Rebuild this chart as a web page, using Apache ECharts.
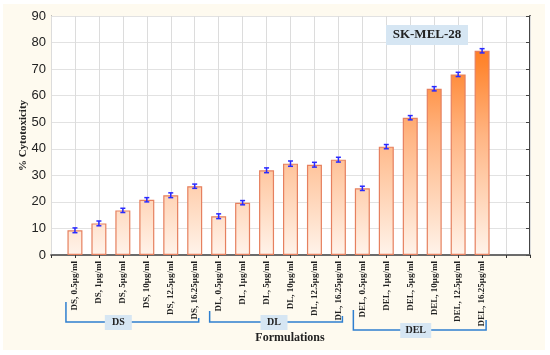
<!DOCTYPE html>
<html>
<head>
<meta charset="utf-8">
<script src="https://cdn.jsdelivr.net/npm/echarts@6/dist/echarts.min.js"></script>
<style>html,body{margin:0;padding:0;background:#fff;}#c{width:550px;height:355px;}</style>
</head>
<body>
<div id="c"></div>
<script>
const categories = [
  'DS, 0.5µg/ml','DS, 1µg/ml','DS, 5µg/ml','DS, 10µg/ml','DS, 12.5µg/ml','DS, 16.25µg/ml',
  'DL, 0.5µg/ml','DL, 1µg/ml','DL, 5µg/ml','DL, 10µg/ml','DL, 12.5µg/ml','DL, 16.25µg/ml',
  'DEL, 0.5µg/ml','DEL, 1µg/ml','DEL, 5µg/ml','DEL, 10µg/ml','DEL, 12.5µg/ml','DEL, 16.25µg/ml'
];
const values = [9.3, 11.9, 16.8, 20.8, 22.5, 25.9, 14.6, 19.7, 31.9, 34.4, 34.0, 35.9, 25.1, 40.8, 51.7, 62.6, 68.0, 76.9];
const errors = [0.9, 0.9, 0.8, 0.8, 0.9, 0.8, 0.9, 0.8, 0.9, 1.0, 0.9, 0.9, 0.8, 0.8, 0.8, 0.8, 0.8, 0.8];
const groupNames = ['DS', 'DL', 'DEL'];
const groupFirst = [0, 6, 12];
const groupLast = [5, 11, 17];
const yTicks = [0, 10, 20, 30, 40, 50, 60, 70, 80, 90];
const chartTitle = 'SK-MEL-28';
const xName = 'Formulations';
const yName = '% Cytotoxicity';

// bracket layout (styles / positions)
const bracketLayout = [
  { lineY: 322, leftTop: 302, rightTop: 318, boxShift: -14 },
  { lineY: 322, leftTop: 311, rightTop: 316, boxShift: -2 },
  { lineY: 330, leftTop: 310, rightTop: 320, boxShift: -4 }
];

const axisData = [''].concat(categories, ['', '']);
const barData = [null].concat(values, [null, null]);
const errData = values.map((v, i) => [i + 1, v - errors[i], v + errors[i]]);

const chart = echarts.init(document.getElementById('c'));
const serif = 'Liberation Serif';
const sans = 'Liberation Sans';

const option = {
  animation: false,
  backgroundColor: '#ffffff',
  grid: { left: 51, top: 16, right: 20, bottom: 100, containLabel: false },
  xAxis: [{
    type: 'category', data: axisData, boundaryGap: false,
    axisLine: { lineStyle: { color: '#555', width: 1.5 } },
    axisTick: { show: true, length: 3, lineStyle: { color: '#333' }, interval: 0 },
    splitLine: { show: true, interval: 0, lineStyle: { color: '#dcdcdc', width: 1 } },
    axisLabel: { rotate: 90, interval: 0, margin: 6, fontFamily: serif, fontWeight: 'bold', fontSize: 9, color: '#222' },
    z: 3
  }, {
    type: 'category', data: axisData, boundaryGap: false, position: 'top',
    axisLine: { lineStyle: { color: '#999', width: 1.5 } },
    axisTick: { show: true, inside: true, length: 3, lineStyle: { color: '#555' }, interval: 0 },
    axisLabel: { show: false }, splitLine: { show: false }
  }],
  yAxis: [{
    type: 'value', min: 0, max: 90, interval: 10,
    name: yName, nameLocation: 'middle', nameGap: 22, nameMoveOverlap: false,
    nameTextStyle: { fontFamily: serif, fontWeight: 'bold', fontSize: 11, color: '#222' },
    axisLine: { show: true, lineStyle: { color: '#666', width: 1 } },
    axisTick: { show: false },
    splitLine: { show: true, lineStyle: { color: '#e2e2e2', width: 1 } },
    axisLabel: { fontFamily: sans, fontSize: 13, color: '#222', margin: 5,
      formatter: v => yTicks.indexOf(v) >= 0 ? String(v) : '' }
  }, {
    type: 'value', min: 0, max: 90, interval: 10, position: 'right',
    axisLine: { show: true, lineStyle: { color: '#444', width: 2 } },
    axisTick: { show: true, inside: true, length: 4, lineStyle: { color: '#444' } },
    axisLabel: { show: false }, splitLine: { show: false }
  }],
  series: [{
    type: 'bar', data: barData, barWidth: 15, xAxisIndex: 0, yAxisIndex: 0,
    itemStyle: {
      borderColor: '#e6805f', borderWidth: 1.2,
      color: {
        type: 'linear', global: true, x: 0, y: 16, x2: 0, y2: 255,
        colorStops: [
          { offset: 0, color: '#ff6e0c' },
          { offset: 0.2, color: '#ff8630' },
          { offset: 0.5, color: '#ffb583' },
          { offset: 0.75, color: '#ffd4b6' },
          { offset: 1, color: '#fff3ea' }
        ]
      }
    },
    z: 4
  }, {
    type: 'custom', data: errData, xAxisIndex: 0, yAxisIndex: 0, z: 5,
    renderItem: function (params, api) {
      const x = api.value(0);
      const lo = api.coord([x, api.value(1)]);
      const hi = api.coord([x, api.value(2)]);
      const w = 2.5;
      const st = { stroke: '#2a2aff', lineWidth: 1.5 };
      return { type: 'group', children: [
        { type: 'line', shape: { x1: lo[0], y1: lo[1], x2: hi[0], y2: hi[1] }, style: st },
        { type: 'line', shape: { x1: lo[0] - w, y1: lo[1], x2: lo[0] + w, y2: lo[1] }, style: st },
        { type: 'line', shape: { x1: hi[0] - w, y1: hi[1], x2: hi[0] + w, y2: hi[1] }, style: st }
      ]};
    }
  }]
};
chart.setOption(option);

// graphics: background, title box, brackets, x-axis name
const g = [];
g.push({ type: 'rect', shape: { x: 3, y: 4, width: 542, height: 346 }, style: { fill: '#fefaef' }, z: -10, silent: true });
g.push({ type: 'rect', shape: { x: 51, y: 16, width: 479, height: 239 }, style: { fill: '#ffffff' }, z: -9, silent: true });
g.push({ type: 'rect', shape: { x: 386, y: 25, width: 82, height: 20 }, style: { fill: '#d6e6f3' }, z: 10 });
g.push({ type: 'text', x: 427, y: 35, style: { text: chartTitle, fontFamily: serif, fontWeight: 'bold', fontSize: 13, fill: '#222', align: 'center', verticalAlign: 'middle' }, z: 11 });
groupNames.forEach((name, i) => {
  const L = bracketLayout[i];
  const xl = chart.convertToPixel({ xAxisIndex: 0 }, groupFirst[i] + 1) - 9;
  const xr = chart.convertToPixel({ xAxisIndex: 0 }, groupLast[i] + 1) + 4;
  const st = { stroke: '#2f7fd0', lineWidth: 1.5, fill: 'none' };
  g.push({ type: 'polyline', shape: { points: [[xl, L.leftTop], [xl, L.lineY], [xr, L.lineY], [xr, L.rightTop]] }, style: st, z: 10 });
  const cx = (xl + xr) / 2 + L.boxShift;
  const bw = name.length > 2 ? 31 : 27;
  g.push({ type: 'rect', shape: { x: cx - bw / 2, y: L.lineY - 7, width: bw, height: 15 }, style: { fill: '#d6e6f3' }, z: 11 });
  g.push({ type: 'text', x: cx, y: L.lineY + 0.5, style: { text: name, fontFamily: serif, fontWeight: 'bold', fontSize: 10, fill: '#222', align: 'center', verticalAlign: 'middle' }, z: 12 });
});
g.push({ type: 'text', x: 290, y: 338, style: { text: xName, fontFamily: serif, fontWeight: 'bold', fontSize: 12, fill: '#222', align: 'center', verticalAlign: 'middle' }, z: 12 });
chart.setOption({ graphic: g });
</script>
</body>
</html>
